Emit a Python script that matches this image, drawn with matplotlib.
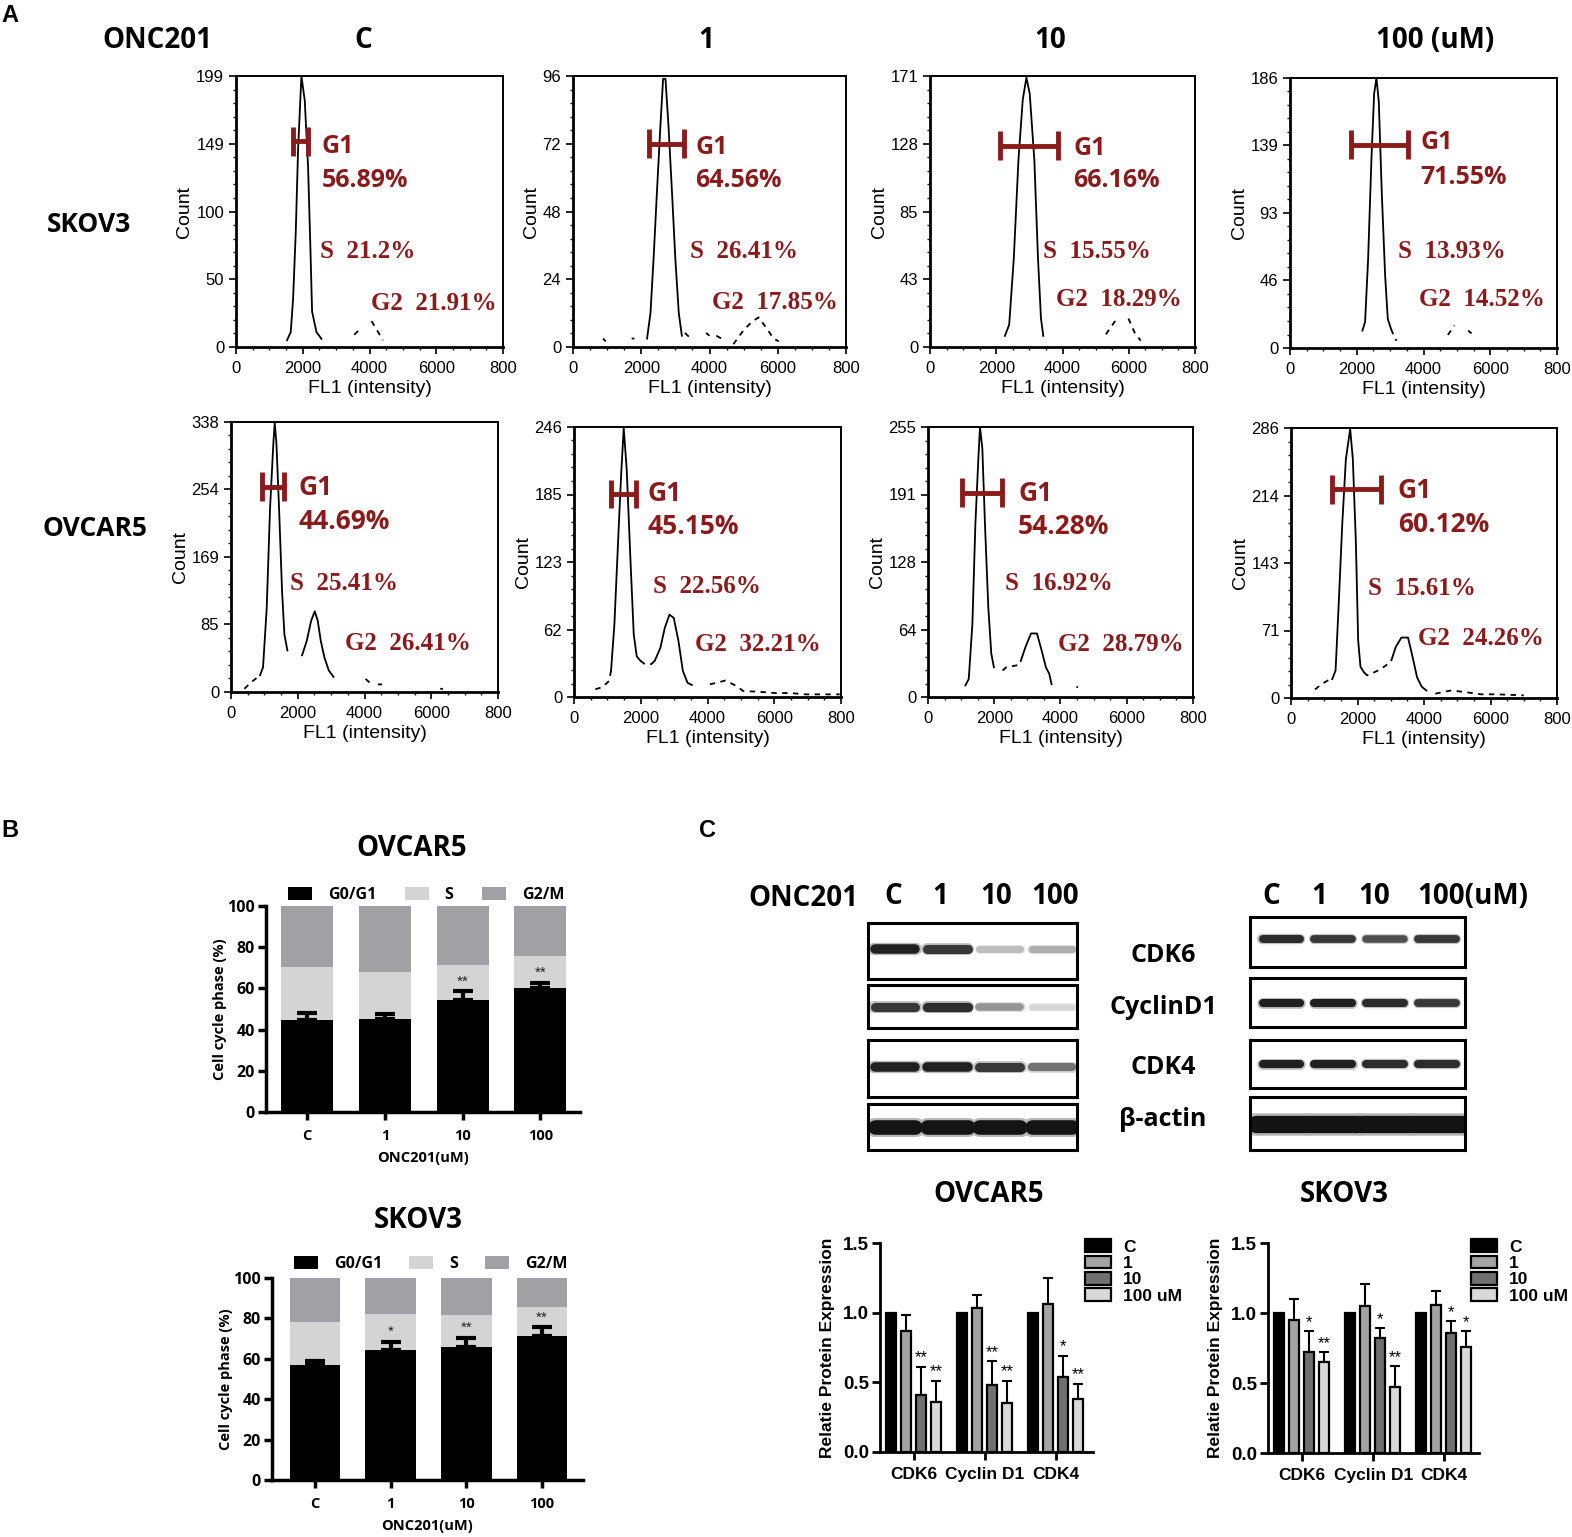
import numpy as np
import matplotlib
matplotlib.use('Agg')
import matplotlib.pyplot as plt
from matplotlib.ticker import AutoMinorLocator, MultipleLocator

nan = np.nan

# ---------------- DATA ----------------
treatments = ['C', '1', '10', '100']
col_titles = ['C', '1', '10', '100 (uM)']

# Panel A: flow cytometry histograms
sk_ymax = [199, 96, 171, 186]
sk_yticklabels = [['0', '50', '100', '149', '199'], ['0', '24', '48', '72', '96'],
                  ['0', '43', '85', '128', '171'], ['0', '46', '93', '139', '186']]
ov_ymax = [338, 246, 255, 286]
ov_yticklabels = [['0', '85', '169', '254', '338'], ['0', '62', '123', '185', '246'],
                  ['0', '64', '128', '191', '255'], ['0', '71', '143', '214', '286']]
xticklabels_fl1 = ['0', '2000', '4000', '6000', '800']

sk_g1 = [56.89, 64.56, 66.16, 71.55]
sk_s = [21.2, 26.41, 15.55, 13.93]
sk_g2 = [21.91, 17.85, 18.29, 14.52]
ov_g1 = [44.69, 45.15, 54.28, 60.12]
ov_s = [25.41, 22.56, 16.92, 15.61]
ov_g2 = [26.41, 32.21, 28.79, 24.26]

# G1 gate (lo, hi, level)
sk_gate_lo = [1710, 2230, 2110, 1830]
sk_gate_hi = [2160, 3250, 3860, 3540]
sk_gate_y = [151, 72, 127, 140]
ov_gate_lo = [930, 1110, 1030, 1230]
ov_gate_hi = [1590, 1860, 2230, 2710]
ov_gate_y = [257, 185, 193, 221]

# histogram traces (solid parts and dashed parts)
sk_c_solid_x = [1530, 1640, 1710, 1790, 1860, 1960, 2060, 2160, 2230, 2280, 2410, 2560]
sk_c_solid_y = [5, 11, 35, 84, 145, 199, 181, 132, 72, 26, 11, 6]
sk_c_dash_x = [3540, 3760, nan, 4060, 4210, 4400]
sk_c_dash_y = [9, 14, nan, 19, 13, 5]

sk_1_solid_x = [2170, 2270, 2360, 2460, 2560, 2640, 2710, 2800, 2900, 3000, 3100, 3190]
sk_1_solid_y = [3, 12, 31, 55, 78, 95, 95, 78, 55, 31, 12, 4]
sk_1_dash_x = [880, 960, nan, 1720, 1800, nan, 3280, 3450, nan, 3900, 4000, nan, 4200, 4350, nan,
               4700, 5000, 5250, 5440, 5650, 5880, 6030]
sk_1_dash_y = [3, 2, nan, 3, 3, nan, 5, 3, nan, 5, 4, nan, 4, 3, nan, 1, 6, 9, 10.5, 7, 3, 2]

sk_10_solid_x = [2260, 2390, 2530, 2670, 2800, 2910, 3010, 3150, 3260, 3350, 3420]
sk_10_solid_y = [7, 14, 56, 118, 156, 170, 160, 118, 56, 18, 7]
sk_10_dash_x = [5310, 5610, nan, 5990, 6180, 6360]
sk_10_dash_y = [8, 17, nan, 18, 9, 4]

sk_100_solid_x = [2170, 2250, 2340, 2440, 2520, 2590, 2660, 2750, 2850, 2930, 3030]
sk_100_solid_y = [12, 18, 61, 130, 175, 186, 170, 107, 50, 20, 13]
sk_100_dash_x = [3030, 3100, 3190, nan, 4730, 4930, nan, 5340, 5440]
sk_100_dash_y = [13, 9, 5, nan, 9, 15.5, nan, 12, 10]

ov_c_solid_x = [870, 960, 1070, 1170, 1270, 1310, 1360, 1440, 1530, 1600, 1690, nan,
                2130, 2270, 2400, 2510, 2600, 2690, 2800, 2930, 3070]
ov_c_solid_y = [21, 31, 105, 230, 312, 337, 312, 230, 126, 72, 52, nan,
                46, 64, 89, 101, 89, 64, 43, 27, 19]
ov_c_dash_x = [400, 600, 870, nan, 4030, 4200, nan, 4400, 4530, nan, 6270, 6350]
ov_c_dash_y = [4, 12, 21, nan, 16.5, 10, nan, 9.5, 9.5, nan, 4, 4]

ov_1_solid_x = [1110, 1210, 1320, 1410, 1490, 1580, 1690, 1790, 1880, 1990, nan,
                2420, 2590, 2720, 2860, 2990, 3130, 3260, 3400, 3530]
ov_1_solid_y = [24, 66, 141, 201, 245, 207, 126, 57, 37, 33, nan,
                33, 45, 63, 75, 72, 51, 24, 13, 11]
ov_1_dash_x = [640, 850, 1050, 1110, nan, 1990, 2120, 2320, 2420, nan,
               4070, 4540, 4870, 5070, 5540, 6010, 6480, 6950, 7420, 7960]
ov_1_dash_y = [7, 9, 14.5, 24, nan, 33, 30, 30, 33, nan,
               11.5, 15, 10, 5.4, 4.8, 3.6, 3.6, 2.4, 2.4, 2.4]

ov_10_solid_x = [1130, 1230, 1340, 1430, 1520, 1570, 1640, 1720, 1820, 1910, 1990, nan,
                 2800, 2940, 3110, 3290, 3430, 3560, 3660, 3730]
ov_10_solid_y = [11, 17, 69, 163, 225, 255, 235, 163, 85, 41, 28, nan,
                 34, 47, 60, 60, 44, 28, 22, 12]
ov_10_dash_x = [2250, 2360, 2700, 2800, nan, 4480, 4530]
ov_10_dash_y = [25, 28, 30, 34, nan, 9.4, 9.4]

ov_100_solid_x = [1240, 1340, 1430, 1540, 1650, 1780, 1860, 1950, 2020, 2090, 2200, nan,
                  3020, 3150, 3320, 3520, 3660, 3790, 3930, 4070]
ov_100_solid_y = [20, 29, 96, 183, 253, 285, 253, 166, 61, 33, 27, nan,
                  40, 54, 64, 64, 43, 22, 12, 8]
ov_100_dash_x = [720, 930, 1130, 1240, nan, 2200, 2290, 2430, 2610, 2840, 3020, nan,
                 4340, 4820, 5230, 5710, 6180, 7000]
ov_100_dash_y = [9, 15, 19, 20, nan, 27, 24, 26, 29, 34, 40, nan,
                 4.6, 8, 6.3, 3.9, 3.9, 2.8]

# Panel B: stacked cell-cycle bars
b_ov_g1 = [44.7, 45.2, 54.3, 60.1]
b_ov_g1_err = [3.5, 2.6, 4.2, 2.4]
b_ov_s = [25.5, 22.8, 17.0, 15.7]
b_ov_g2 = [29.8, 32.0, 28.7, 24.2]
b_ov_sig = ['', '', '**', '**']
b_sk_g1 = [57.0, 64.5, 66.0, 71.5]
b_sk_g1_err = [2.0, 4.0, 4.5, 4.0]
b_sk_s = [21.2, 17.5, 15.8, 14.0]
b_sk_g2 = [21.8, 18.0, 18.2, 14.5]
b_sk_sig = ['', '*', '**', '**']

# Panel C: western blot band intensities (0..1)
proteins_wb = ['CDK6', 'CyclinD1', 'CDK4', 'β-actin']
wb_ov_cdk6 = [0.95, 0.85, 0.28, 0.35]
wb_ov_ccnd1 = [0.85, 0.9, 0.45, 0.18]
wb_ov_cdk4 = [0.95, 0.95, 0.85, 0.6]
wb_ov_actin = [1.0, 1.0, 1.0, 1.0]
wb_sk_cdk6 = [0.9, 0.85, 0.75, 0.85]
wb_sk_ccnd1 = [0.95, 0.95, 0.9, 0.85]
wb_sk_cdk4 = [0.95, 0.95, 0.9, 0.9]
wb_sk_actin = [1.0, 1.0, 1.0, 1.0]

# Panel C: quantification
genes = ['CDK6', 'Cyclin D1', 'CDK4']
dose_labels = ['C', '1', '10', '100 uM']
q_ov_c = [1.0, 1.0, 1.0]
q_ov_1 = [0.87, 1.03, 1.06]
q_ov_10 = [0.41, 0.48, 0.54]
q_ov_100 = [0.36, 0.35, 0.38]
q_ov_1_err = [0.11, 0.10, 0.19]
q_ov_10_err = [0.20, 0.17, 0.15]
q_ov_100_err = [0.15, 0.16, 0.11]
q_ov_10_sig = ['**', '**', '*']
q_ov_100_sig = ['**', '**', '**']
q_sk_c = [1.0, 1.0, 1.0]
q_sk_1 = [0.95, 1.05, 1.06]
q_sk_10 = [0.72, 0.82, 0.86]
q_sk_100 = [0.65, 0.47, 0.76]
q_sk_1_err = [0.15, 0.16, 0.10]
q_sk_10_err = [0.15, 0.07, 0.08]
q_sk_100_err = [0.07, 0.15, 0.11]
q_sk_10_sig = ['*', '*', '*']
q_sk_100_sig = ['**', '**', '*']

# ---------------- FIGURE ----------------
W, H = 1572, 1537
fig = plt.figure(figsize=(W / 100, H / 100), dpi=100)
DARKRED = '#8B1A1A'
SANS = 'Liberation Sans'
BOLDF = 'Open Sans'
SERIF = 'Liberation Serif'


def add_ax(l, t, r, b):
    return fig.add_axes([l / W, 1 - b / H, (r - l) / W, (b - t) / H])


def ftext(x, y, s, **kw):
    fig.text(x / W, 1 - y / H, s, **kw)


# ---- Panel A ----
ftext(10, 15, 'A', fontsize=17, fontweight='bold', family=SANS, ha='center', va='center')
ftext(157, 40, 'ONC201', fontsize=20, fontweight='bold', family=BOLDF, ha='center', va='center')
for xc, t in zip([363, 706, 1050, 1435], col_titles):
    ftext(xc, 40, t, fontsize=20, fontweight='bold', family=BOLDF, ha='center', va='center')
ftext(89, 224, 'SKOV3', fontsize=19, fontweight='bold', family=BOLDF, ha='center', va='center')
ftext(95, 528, 'OVCAR5', fontsize=19, fontweight='bold', family=BOLDF, ha='center', va='center')

sk_boxes = [(236, 76, 503, 347), (573, 76, 846, 347), (930, 76, 1195, 347), (1290, 78, 1557, 348)]
ov_boxes = [(231, 422, 498, 692), (574, 427, 841, 697), (928, 427, 1193, 697), (1291, 428, 1557, 698)]

sk_solid = [(sk_c_solid_x, sk_c_solid_y), (sk_1_solid_x, sk_1_solid_y),
            (sk_10_solid_x, sk_10_solid_y), (sk_100_solid_x, sk_100_solid_y)]
sk_dash = [(sk_c_dash_x, sk_c_dash_y), (sk_1_dash_x, sk_1_dash_y),
           (sk_10_dash_x, sk_10_dash_y), (sk_100_dash_x, sk_100_dash_y)]
ov_solid = [(ov_c_solid_x, ov_c_solid_y), (ov_1_solid_x, ov_1_solid_y),
            (ov_10_solid_x, ov_10_solid_y), (ov_100_solid_x, ov_100_solid_y)]
ov_dash = [(ov_c_dash_x, ov_c_dash_y), (ov_1_dash_x, ov_1_dash_y),
           (ov_10_dash_x, ov_10_dash_y), (ov_100_dash_x, ov_100_dash_y)]

# label layout (axes fraction)
sk_g1_pos = [(0.32, 0.74), (0.447, 0.738), (0.54, 0.734), (0.487, 0.76)]
sk_pct_y = [0.616, 0.613, 0.613, 0.633]
sk_s_pos = [(0.316, 0.354), (0.43, 0.354), (0.426, 0.354), (0.404, 0.359)]
sk_g2_pos = [(0.506, 0.162), (0.509, 0.166), (0.475, 0.177), (0.483, 0.181)]
ov_g1_pos = [(0.251, 0.759), (0.277, 0.752), (0.34, 0.752), (0.402, 0.767)]
ov_pct_y = [0.633, 0.633, 0.63, 0.641]
ov_s_pos = [(0.221, 0.4), (0.296, 0.411), (0.29, 0.419), (0.289, 0.407)]
ov_g2_pos = [(0.427, 0.178), (0.453, 0.193), (0.49, 0.196), (0.477, 0.219)]


def draw_hist(box, ymax, ylabels, solid, dash, glo, ghi, gy, g1, s, g2,
              g1pos, pcty, spos, g2pos, g1size):
    ax = add_ax(*box)
    ax.plot(solid[0], solid[1], color='black', lw=1.3)
    ax.plot(dash[0], dash[1], color='black', lw=1.3, ls=(0, (3, 3)))
    h = 0.053 * ymax
    ax.plot([glo, ghi], [gy, gy], color=DARKRED, lw=3.5, solid_capstyle='butt')
    ax.plot([glo, glo], [gy - h, gy + h], color=DARKRED, lw=3.5, solid_capstyle='butt')
    ax.plot([ghi, ghi], [gy - h, gy + h], color=DARKRED, lw=3.5, solid_capstyle='butt')
    ax.set_xlim(0, 8000)
    ax.set_ylim(0, ymax)
    ax.set_xticks([0, 2000, 4000, 6000, 8000])
    ax.set_xticklabels(xticklabels_fl1)
    ax.set_yticks(np.linspace(0, ymax, 5))
    ax.set_yticklabels(ylabels)
    ax.xaxis.set_minor_locator(MultipleLocator(500))
    ax.yaxis.set_minor_locator(AutoMinorLocator(5))
    ax.tick_params(which='major', direction='out', length=5, width=1.2, labelsize=12)
    ax.tick_params(axis='x', which='major', pad=5)
    ax.tick_params(which='minor', direction='out', length=2.5, width=1)
    for lab in ax.get_xticklabels() + ax.get_yticklabels():
        lab.set_family(SANS)
    for sp in ['left', 'bottom']:
        ax.spines[sp].set_linewidth(2)
    for sp in ['top', 'right']:
        ax.spines[sp].set_linewidth(1.4)
    ax.set_xlabel('FL1 (intensity)', fontsize=14, family=SANS, labelpad=3)
    ax.set_ylabel('Count', fontsize=14, family=SANS, labelpad=2)
    ax.text(g1pos[0], g1pos[1], 'G1', transform=ax.transAxes, color=DARKRED,
            fontsize=g1size, fontweight='bold', family=BOLDF, ha='left', va='center')
    ax.text(g1pos[0], pcty, f'{g1}%', transform=ax.transAxes, color=DARKRED,
            fontsize=g1size, fontweight='bold', family=BOLDF, ha='left', va='center')
    ax.text(spos[0], spos[1], f'S  {s}%', transform=ax.transAxes, color=DARKRED,
            fontsize=18, fontweight='bold', family=SERIF, ha='left', va='center')
    ax.text(g2pos[0], g2pos[1], f'G2  {g2}%', transform=ax.transAxes, color=DARKRED,
            fontsize=18, fontweight='bold', family=SERIF, ha='left', va='center')
    return ax


for i in range(4):
    draw_hist(sk_boxes[i], sk_ymax[i], sk_yticklabels[i], sk_solid[i], sk_dash[i],
              sk_gate_lo[i], sk_gate_hi[i], sk_gate_y[i], sk_g1[i], sk_s[i], sk_g2[i],
              sk_g1_pos[i], sk_pct_y[i], sk_s_pos[i], sk_g2_pos[i], 18)
    draw_hist(ov_boxes[i], ov_ymax[i], ov_yticklabels[i], ov_solid[i], ov_dash[i],
              ov_gate_lo[i], ov_gate_hi[i], ov_gate_y[i], ov_g1[i], ov_s[i], ov_g2[i],
              ov_g1_pos[i], ov_pct_y[i], ov_s_pos[i], ov_g2_pos[i], 19)

# ---- Panel B ----
ftext(10, 830, 'B', fontsize=17, fontweight='bold', family=SANS, ha='center', va='center')
C_G1, C_S, C_G2 = '#000000', '#d4d4d4', '#a0a0a5'


def draw_stack(box, xlim, title, title_xy, g1, err, s, g2, sig, width, leg_y):
    ax = add_ax(*box)
    x = np.arange(len(treatments))
    ax.bar(x, g1, width, color=C_G1, label='G0/G1', zorder=2)
    ax.bar(x, s, width, bottom=g1, color=C_S, label='S', zorder=2)
    ax.bar(x, g2, width, bottom=np.add(g1, s), color=C_G2, label='G2/M', zorder=2)
    ax.errorbar(x, g1, yerr=[np.zeros(len(err)), err], fmt='none', ecolor='black',
                elinewidth=3, capsize=7, capthick=3, zorder=3)
    for xi, gi, ei, st in zip(x, g1, err, sig):
        if st:
            ax.text(xi, gi + ei + 1.5, st, ha='center', va='bottom', fontsize=11,
                    family=SANS, color='#222222', zorder=4)
    ax.set_xlim(*xlim)
    ax.set_ylim(0, 100)
    ax.set_yticks(range(0, 101, 20))
    ax.set_xticks(x)
    ax.set_xticklabels(treatments)
    for sp in ['top', 'right']:
        ax.spines[sp].set_visible(False)
    for sp in ['left', 'bottom']:
        ax.spines[sp].set_linewidth(2.5)
    ax.tick_params(axis='y', direction='out', length=6, width=2.5, labelsize=11.5, pad=2)
    ax.tick_params(axis='x', direction='out', length=6, width=2.5, labelsize=10.5, pad=6)
    for lab in ax.get_xticklabels() + ax.get_yticklabels():
        lab.set_family(BOLDF)
        lab.set_fontweight('bold')
    ax.set_ylabel('Cell cycle phase (%)', fontsize=10.5, fontweight='bold', family=BOLDF, labelpad=0)
    ax.set_xlabel('ONC201(uM)', fontsize=10.5, fontweight='bold', family=BOLDF, labelpad=6)
    ax.legend(loc='center', bbox_to_anchor=(0.05, leg_y, 0.92, 0), mode='expand', ncol=3,
              frameon=False, handlelength=1.5, handleheight=0.9, handletextpad=1.0,
              prop={'family': BOLDF, 'weight': 'bold', 'size': 11.5}, borderaxespad=0)
    ftext(title_xy[0], title_xy[1], title, fontsize=20, fontweight='bold', family=BOLDF,
          ha='center', va='center')
    return ax


draw_stack((266, 906, 580, 1112), (-0.53, 3.51), 'OVCAR5', (412, 848),
           b_ov_g1, b_ov_g1_err, b_ov_s, b_ov_g2, b_ov_sig, 0.67, 1.055)
draw_stack((272, 1278, 583, 1480), (-0.57, 3.54), 'SKOV3', (418, 1220),
           b_sk_g1, b_sk_g1_err, b_sk_s, b_sk_g2, b_sk_sig, 0.67, 1.07)

# ---- Panel C: western blots ----
ftext(708, 830, 'C', fontsize=17, fontweight='bold', family=SANS, ha='center', va='center')
ftext(803, 898, 'ONC201', fontsize=20, fontweight='bold', family=BOLDF, ha='center', va='center')
for xc, t in zip([893, 940, 996, 1055], treatments):
    ftext(xc, 896, t, fontsize=20, fontweight='bold', family=BOLDF, ha='center', va='center')
for xc, t in zip([1271, 1319, 1374], treatments[:3]):
    ftext(xc, 896, t, fontsize=20, fontweight='bold', family=BOLDF, ha='center', va='center')
ftext(1473, 896, '100(uM)', fontsize=20, fontweight='bold', family=BOLDF, ha='center', va='center')
for yc, t in zip([955, 1008, 1068, 1120], proteins_wb):
    ftext(1163, yc, t, fontsize=18, fontweight='bold', family=BOLDF, ha='center', va='center')

ov_wb_boxes = [(868, 923, 1077, 979), (868, 985, 1077, 1028), (868, 1040, 1077, 1097), (868, 1104, 1077, 1150)]
sk_wb_boxes = [(1250, 917, 1465, 967), (1250, 978, 1465, 1027), (1250, 1040, 1465, 1088), (1250, 1097, 1465, 1150)]
ov_wb = [wb_ov_cdk6, wb_ov_ccnd1, wb_ov_cdk4, wb_ov_actin]
sk_wb = [wb_sk_cdk6, wb_sk_ccnd1, wb_sk_cdk4, wb_sk_actin]
ov_band_y = [0.54, 0.5, 0.52, 0.5]
sk_band_y = [0.56, 0.5, 0.5, 0.5]


def draw_blot(box, inten, xlim, band_y, thick, half):
    ax = add_ax(*box)
    ax.set_xlim(*xlim)
    ax.set_ylim(0, 1)
    ax.set_xticks([])
    ax.set_yticks([])
    for sp in ax.spines.values():
        sp.set_linewidth(2.2)
    for i, v in enumerate(inten):
        g = 1 - 0.92 * v
        lw = thick * (0.6 + 0.4 * v)
        halo = g + (1 - g) * 0.7
        ax.plot([i - half, i + half], [band_y, band_y], color=str(halo), lw=lw * 1.3,
                solid_capstyle='round', zorder=1)
    for i, v in enumerate(inten):
        g = 1 - 0.92 * v
        lw = thick * (0.6 + 0.4 * v)
        ax.plot([i - half * 0.97, i + half * 0.97], [band_y, band_y], color=str(g), lw=lw,
                solid_capstyle='round', zorder=2)
    return ax


for k in range(4):
    big = k == 3
    draw_blot(ov_wb_boxes[k], ov_wb[k], (-0.52, 3.48), ov_band_y[k], 10.5 if big else 7, 0.4)
    draw_blot(sk_wb_boxes[k], sk_wb[k], (-0.6, 3.54), sk_band_y[k], 12.5 if big else 6,
              0.5 if big else 0.37)

# ---- Panel C: quantification ----
Q_COLORS = ['#000000', '#a3a3a3', '#707070', '#d9d9d9']


def draw_quant(box, xlim, title, title_xy, vals, errs, sigs):
    ax = add_ax(*box)
    x = np.arange(len(genes))
    w = 0.14
    offs = [-0.32, -0.11, 0.10, 0.31]
    for j in range(4):
        ax.bar(x + offs[j], vals[j], w, color=Q_COLORS[j], edgecolor='black',
               linewidth=1.6, label=dose_labels[j], zorder=2)
        if errs[j] is not None:
            ax.errorbar(x + offs[j], vals[j], yerr=[np.zeros(3), errs[j]], fmt='none',
                        ecolor='black', elinewidth=1.5, capsize=3.5, capthick=1.5, zorder=1)
        if sigs[j] is not None:
            for xi, v, e, st in zip(x + offs[j], vals[j], errs[j], sigs[j]):
                ax.text(xi, v + e + 0.01, st, ha='center', va='bottom', fontsize=12,
                        family=SANS, zorder=3)
    ax.set_xlim(*xlim)
    ax.set_ylim(0, 1.5)
    ax.set_yticks([0, 0.5, 1.0, 1.5])
    ax.set_yticklabels(['0.0', '0.5', '1.0', '1.5'])
    ax.set_xticks(x)
    ax.set_xticklabels(genes)
    for sp in ['top', 'right']:
        ax.spines[sp].set_visible(False)
    for sp in ['left', 'bottom']:
        ax.spines[sp].set_linewidth(2)
    ax.tick_params(axis='y', direction='out', length=6, width=2, labelsize=13.5, pad=2)
    ax.tick_params(axis='x', direction='out', length=6, width=2, labelsize=12.5, pad=5)
    for lab in ax.get_xticklabels() + ax.get_yticklabels():
        lab.set_family(SANS)
        lab.set_fontweight('bold')
    ax.set_ylabel('Relatie Protein Expression', fontsize=12.5, fontweight='bold', family=SANS, labelpad=6)
    ax.legend(loc='upper left', bbox_to_anchor=(0.93, 1.05), frameon=False, handlelength=1.5,
              handleheight=0.75, labelspacing=0.05, handletextpad=0.7, borderaxespad=0,
              prop={'family': SANS, 'weight': 'bold', 'size': 12.5})
    ftext(title_xy[0], title_xy[1], title, fontsize=20, fontweight='bold', family=BOLDF,
          ha='center', va='center')


draw_quant((880, 1243, 1093, 1452), (-0.48, 2.52), 'OVCAR5', (989, 1195),
           [q_ov_c, q_ov_1, q_ov_10, q_ov_100],
           [None, q_ov_1_err, q_ov_10_err, q_ov_100_err],
           [None, None, q_ov_10_sig, q_ov_100_sig])
draw_quant((1268, 1243, 1479, 1453), (-0.48, 2.49), 'SKOV3', (1344, 1195),
           [q_sk_c, q_sk_1, q_sk_10, q_sk_100],
           [None, q_sk_1_err, q_sk_10_err, q_sk_100_err],
           [None, None, q_sk_10_sig, q_sk_100_sig])

fig.savefig('out.png', dpi=100)
